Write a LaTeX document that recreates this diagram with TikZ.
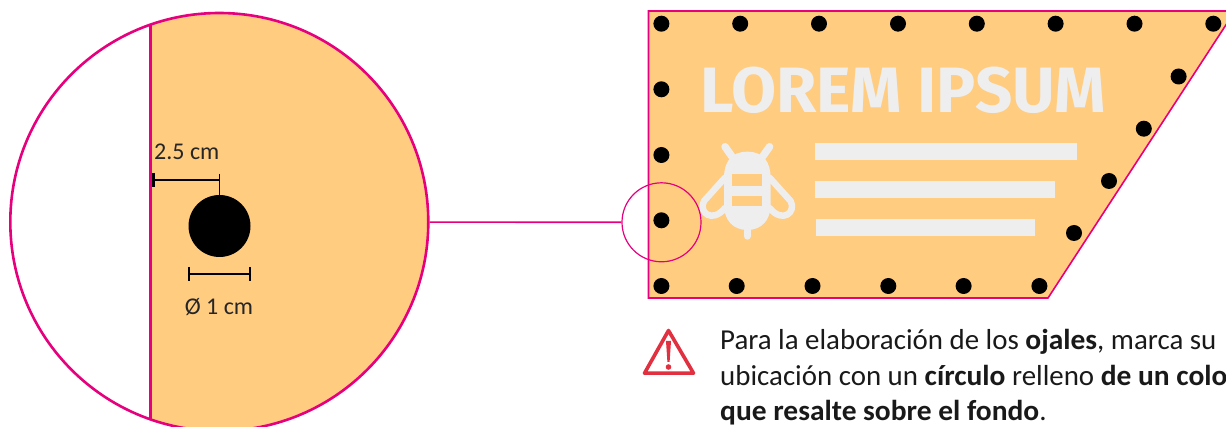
\documentclass[tikz,border=0pt]{standalone}
\usepackage{fontspec}
\setmainfont{Carlito}[BoldFeatures={FakeStretch=1.02}]
\newfontfamily\titlefont{Fira Sans}
\definecolor{pinkline}{HTML}{E6007E}
\definecolor{sandfill}{HTML}{FFCC80}
\definecolor{palegrey}{HTML}{EEEEEE}
\definecolor{warnred}{HTML}{E1303F}
\tikzset{
  hole/.style={circle,fill=black,draw=none,inner sep=0pt,minimum size=16pt},
  ring/.style={circle,draw=pinkline,inner sep=0pt},
  dimline/.style={draw=black,line width=1.3pt},
  dimtick/.style={draw=black,line width=2pt},
  bar/.style={fill=palegrey,draw=none},
  beestroke/.style={draw=palegrey,line width=7.5pt,line cap=round,line join=round},
  lbl/.style={inner sep=0pt,anchor=base,font=\fontsize{24}{28}\selectfont,text=black!85},
  para/.style={inner sep=0pt,anchor=base west,font=\fontsize{28.9}{34}\selectfont,text=black!90},
}
\begin{document}
\begin{tikzpicture}[x=1pt,y=-1pt]
\clip (0,0) rectangle (1226,427);
% enlarged view
\begin{scope}
  \clip (219,222) circle (209);
  \fill[sandfill] (150.5,0) rectangle (440,440);
\end{scope}
\node[ring,line width=2.6pt,minimum size=418pt] (big) at (219.3,222) {};
\coordinate (chordt) at (150.5,24);
\coordinate (chordb) at (150.5,420);
\draw[pinkline,line width=2.6pt] (chordt) -- (chordb);
\node[circle,fill=black,inner sep=0pt,minimum size=62pt] (bighole) at (219.5,226) {};
\coordinate (dl) at (153,180);
\coordinate (dr) at (219.5,180);
\draw[dimline] (dl) -- (dr);
\draw[draw=black,line width=3pt] (153,173) -- (153,187);
\draw[dimline] (219.5,174) -- (bighole.north);
\coordinate (el) at (189,274);
\coordinate (er) at (250,274);
\draw[dimline] (el) -- (er);
\draw[dimtick] (189,267) -- (189,281);
\draw[dimtick] (250,267) -- (250,281);
\node[lbl,anchor=base west] (dtxt) at (154,160) {2.5 cm};
\node[lbl] (ltxt) at (219,315) {Ø 1 cm};
% banner
\fill[sandfill,draw=pinkline,line width=1.6pt] (648.5,11) -- (1235,11) -- (1048,298) -- (648.5,298) -- cycle;
\foreach \i/\x in {1/661.4,2/740.2,3/819,4/898,5/976.8,6/1055.6,7/1134.5,8/1213.3}
  \node[hole] (t\i) at (\x,23.7) {};
\foreach \i/\y in {1/89.3,2/155,3/220.3}
  \node[hole] (l\i) at (661.4,\y) {};
\foreach \i/\x in {1/661.4,2/736.7,3/812.5,4/888.3,5/963.6,6/1039.4}
  \node[hole] (b\i) at (\x,286) {};
\foreach \i/\x/\y in {1/1178.6/76.5,2/1143.8/128.7,3/1109/181,4/1074/233}
  \node[hole] (s\i) at (\x,\y) {};
\node[inner sep=0pt,anchor=south west,text=palegrey] (title) at (700,113.5)
  {\resizebox{406pt}{45.5pt}{\titlefont\bfseries LOREM IPSUM}};
\fill[bar] (815.2,143) rectangle (1076.9,160);
\fill[bar] (815.2,181) rectangle (1055.3,198);
\fill[bar] (816,219) rectangle (1035,236);
% bee
\draw[beestroke] (725,146.7) -- (733,158);
\draw[beestroke] (769.6,146.7) -- (761.6,158);
\draw[beestroke] (747.3,228) -- (747.3,236);
\draw[beestroke,line width=6.5pt] (725,177.7) -- (704,201) .. controls (698,212) and (712,224) .. (725,208);
\draw[beestroke,line width=6.5pt] (769.6,177.7) -- (790.6,201) .. controls (796.6,212) and (782.6,224) .. (769.6,208);
\fill[palegrey] (747.3,151.7) .. controls (731,151.7) and (724,162) .. (724,178)
  -- (724,205) .. controls (724,220) and (733,230) .. (747.3,230)
  .. controls (761.6,230) and (770.6,220) .. (770.6,205)
  -- (770.6,178) .. controls (770.6,162) and (763.6,151.7) .. (747.3,151.7) -- cycle;
\fill[sandfill] (732.3,174) rectangle (762.3,185.7);
\fill[sandfill] (732.3,195.7) rectangle (762.3,206);
% magnifier
\node[ring,line width=1.2pt,minimum size=79pt] (mag) at (661.5,222.3) {};
\draw[pinkline,line width=1.6pt] (big) -- (mag);
% warning
\draw[warnred,line width=3.6pt,line join=round] (668.5,330.5) -- (693.5,373.2) -- (644.5,373.2) -- cycle;
\fill[warnred] (666,341) -- (671,341) -- (669.6,362) -- (667.4,362) -- cycle;
\fill[warnred] (668.5,367) circle (2.8);
\node[para] (p1) at (720,350) {Para la elaboración de los \textbf{ojales}, marca su};
\node[para] (p2) at (720,385.5) {ubicación con un \textbf{círculo} relleno \textbf{de un colo}};
\node[para] (p3) at (720,420) {\textbf{que resalte sobre el fondo}.};
\end{tikzpicture}
\end{document}
